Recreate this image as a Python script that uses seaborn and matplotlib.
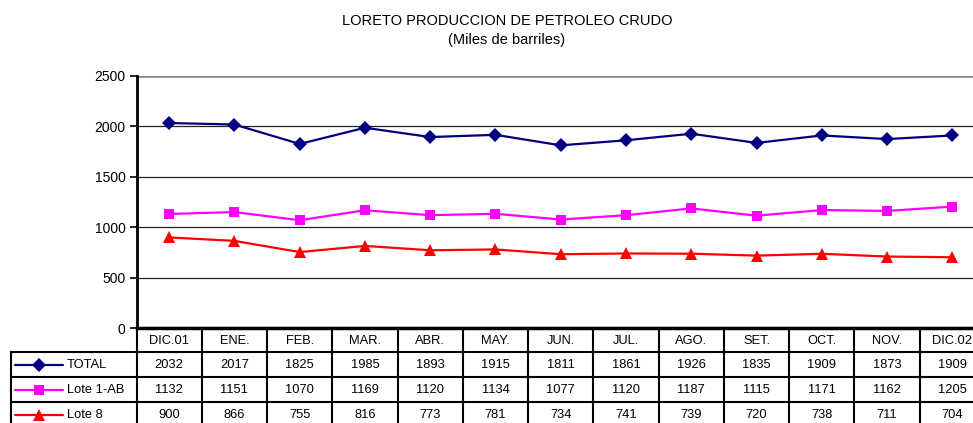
import matplotlib
matplotlib.use("Agg")
import matplotlib.pyplot as plt
from matplotlib.lines import Line2D
import seaborn as sns
import pandas as pd

months = ["DIC.01", "ENE.", "FEB.", "MAR.", "ABR.", "MAY.", "JUN.", "JUL.",
          "AGO.", "SET.", "OCT.", "NOV.", "DIC.02"]
total = [2032, 2017, 1825, 1985, 1893, 1915, 1811, 1861, 1926, 1835, 1909, 1873, 1909]
lote_1ab = [1132, 1151, 1070, 1169, 1120, 1134, 1077, 1120, 1187, 1115, 1171, 1162, 1205]
lote_8 = [900, 866, 755, 816, 773, 781, 734, 741, 739, 720, 738, 711, 704]
series_names = ["TOTAL", "Lote 1-AB", "Lote 8"]
yticks = [0, 500, 1000, 1500, 2000, 2500]

colors = {"TOTAL": "#000080", "Lote 1-AB": "#FF00FF", "Lote 8": "#FF0000"}
markers = {"TOTAL": "D", "Lote 1-AB": "s", "Lote 8": "^"}
msizes = {"TOTAL": 7.5, "Lote 1-AB": 7, "Lote 8": 8.5}

series_vals = [total, lote_1ab, lote_8]
rows = []
for name, vals in zip(series_names, series_vals):
    for i, v in enumerate(vals):
        rows.append({"idx": i, "mes": months[i], "serie": name, "valor": v})
df = pd.DataFrame(rows)

sns.set_theme(style="white")
plt.rcParams["font.family"] = ["Liberation Sans", "DejaVu Sans"]
plt.rcParams["text.color"] = "black"
plt.rcParams["ytick.color"] = "black"
plt.rcParams["ytick.labelcolor"] = "black"

W, H = 973, 423
fig = plt.figure(figsize=(W / 100, H / 100), dpi=100)
left_px, right_px, top_px, bot_px = 136.5, 985.0, 75.7, 328.4
ax = fig.add_axes([left_px / W, 1 - bot_px / H, (right_px - left_px) / W, (bot_px - top_px) / H])

sns.lineplot(data=df, x="idx", y="valor", hue="serie", style="serie",
             palette=colors, markers=markers, dashes=False, linewidth=1.6,
             markersize=7.5, markeredgewidth=0, legend=False, ax=ax, sort=False)
for line, name in zip(ax.lines, series_names):
    line.set_markersize(msizes[name])

ax.set_xlim(-0.5, len(months) - 0.5)
ax.set_ylim(0, 2500)
ax.set_yticks(yticks)
ax.set_yticklabels([str(t) for t in yticks], fontsize=10, color="black")
ax.set_xticks([])
ax.set_xlabel("")
ax.set_ylabel("")
for t in yticks[1:-1]:
    ax.axhline(t, color="#222222", lw=0.9, zorder=0)
ax.axhline(2500, color="#8c8c8c", lw=2.0, zorder=0)
for s in ["top", "right"]:
    ax.spines[s].set_visible(False)
ax.spines["left"].set_color("black")
ax.spines["left"].set_linewidth(2.0)
ax.spines["bottom"].set_color("black")
ax.spines["bottom"].set_linewidth(2.5)
ax.tick_params(axis="y", direction="out", length=5, width=1.2, color="black", pad=3, left=True)

fig.text(507 / W, 1 - 21 / H, "LORETO PRODUCCION DE PETROLEO CRUDO", ha="center", va="center",
         fontsize=10.5, color="black")
fig.text(507 / W, 1 - 40 / H, "(Miles de barriles)", ha="center", va="center",
         fontsize=10.5, color="black")

# data table overlay in pixel coordinates
ov = fig.add_axes([0, 0, 1, 1], facecolor="none")
ov.set_xlim(0, W)
ov.set_ylim(H, 0)
ov.axis("off")
ncol = len(months)
cw = (right_px - left_px) / ncol
row_edges = [bot_px, 352.3, 377.3, 402.3, 427.3]
lab_left = 11
lk = dict(color="black", lw=1.5, clip_on=False, solid_capstyle="projecting")
ov.plot([left_px, right_px], [row_edges[0]] * 2, **lk)
for y in row_edges[1:]:
    ov.plot([lab_left, right_px], [y, y], **lk)
ov.plot([lab_left, lab_left], [row_edges[1], row_edges[-1]], **lk)
for i in range(ncol + 1):
    x = left_px + i * cw
    ov.plot([x, x], [row_edges[0], row_edges[-1]], **lk)
fs = 9.3
for i, m in enumerate(months):
    ov.text(left_px + (i + 0.5) * cw, (row_edges[0] + row_edges[1]) / 2 + 0.5, m,
            ha="center", va="center", fontsize=fs, color="black")
for r, (name, vals) in enumerate(zip(series_names, series_vals)):
    yc = (row_edges[r + 1] + row_edges[r + 2]) / 2 + 0.5
    ov.add_line(Line2D([15, 63], [yc, yc], color=colors[name], lw=1.6))
    ov.add_line(Line2D([39], [yc], marker=markers[name], color=colors[name],
                       markersize=msizes[name], markeredgewidth=0))
    ov.text(67, yc, name, ha="left", va="center", fontsize=fs, color="black")
    for i, v in enumerate(vals):
        ov.text(left_px + (i + 0.5) * cw, yc, str(v), ha="center", va="center",
                fontsize=fs, color="black")

fig.savefig("out.png", dpi=100)
